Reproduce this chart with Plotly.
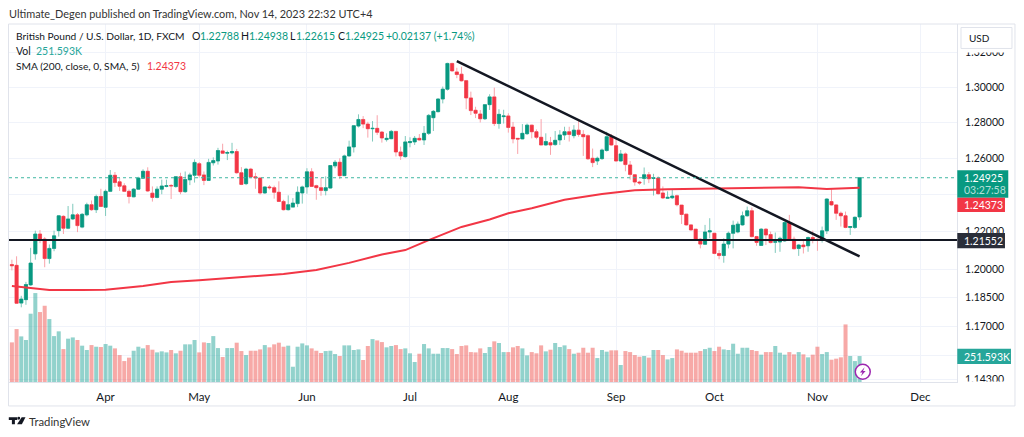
import math

import pandas as pd
import plotly.graph_objs as go

# GBPUSD daily candles
opens = [
    1.2024,1.2020,1.1822,1.1840,1.1917,1.2081,1.2187,1.2160,1.2056,1.2110,
    1.2205,1.2282,1.2218,1.2268,1.2290,1.2224,1.2290,1.2345,1.2318,1.2390,
    1.2331,1.2418,1.2506,1.2470,1.2448,1.2418,1.2388,1.2430,1.2490,1.2528,
    1.2408,1.2385,1.2430,1.2445,1.2450,1.2444,1.2498,1.2416,1.2481,1.2506,
    1.2570,1.2508,1.2478,1.2575,1.2585,1.2641,1.2628,1.2630,1.2637,1.2520,
    1.2460,1.2540,1.2498,1.2491,1.2409,1.2442,1.2438,1.2413,1.2363,1.2318,
    1.2332,1.2351,1.2409,1.2442,1.2525,1.2449,1.2438,1.2422,1.2436,1.2558,
    1.2578,1.2504,1.2613,1.2663,1.2780,1.2817,1.2791,1.2765,1.2767,1.2746,
    1.2704,1.2709,1.2750,1.2635,1.2609,1.2687,1.2691,1.2711,1.2702,1.2739,
    1.2827,1.2861,1.2933,1.2989,1.3137,1.3088,1.3075,1.3038,1.2939,1.2869,
    1.2848,1.2821,1.2901,1.2945,1.2794,1.2833,1.2837,1.2774,1.2711,1.2708,
    1.2737,1.2785,1.2748,1.2717,1.2674,1.2687,1.2676,1.2702,1.2730,1.2748,
    1.2726,1.2757,1.2733,1.2726,1.2600,1.2585,1.2598,1.2643,1.2720,1.2670,
    1.2585,1.2624,1.2563,1.2509,1.2469,1.2489,1.2509,1.2489,1.2491,1.2409,
    1.2380,1.2383,1.2394,1.2343,1.2294,1.2236,1.2213,1.2159,1.2132,1.2198,
    1.2191,1.2083,1.2072,1.2133,1.2191,1.2198,1.2236,1.2285,1.2312,1.2173,
    1.2126,1.2213,1.2184,1.2143,1.2144,1.2150,1.2249,1.2159,1.2110,1.2128,
    1.2124,1.2168,1.2159,1.2155,1.2204,1.2362,1.2344,1.2299,1.2285,1.2222,1.2222,1.22788,
]
highs = [
    1.2050,1.2068,1.1860,1.1933,1.2113,1.2205,1.2208,1.2170,1.2131,1.2205,
    1.2288,1.2288,1.2338,1.2350,1.2300,1.2300,1.2356,1.2368,1.2400,1.2432,
    1.2428,1.2535,1.2524,1.2492,1.2462,1.2428,1.2436,1.2498,1.2539,1.2550,
    1.2445,1.2445,1.2482,1.2482,1.2458,1.2502,1.2520,1.2527,1.2520,1.2594,
    1.2579,1.2527,1.2597,1.2605,1.2658,1.2681,1.2642,1.2686,1.2652,1.2551,
    1.2547,1.2547,1.2520,1.2493,1.2445,1.2452,1.2449,1.2473,1.2372,1.2396,
    1.2381,1.2445,1.2449,1.2545,1.2545,1.2454,1.2491,1.2500,1.2560,1.2590,
    1.2600,1.2620,1.2698,1.2785,1.2846,1.2836,1.2804,1.2808,1.2841,1.2752,
    1.2739,1.2758,1.2752,1.2665,1.2724,1.2717,1.2724,1.2735,1.2780,1.2848,
    1.2870,1.2937,1.3004,1.3141,1.3141,1.3112,1.3118,1.3042,1.2975,1.2889,
    1.2870,1.2903,1.2960,1.2998,1.2875,1.2872,1.2852,1.2803,1.2712,1.2791,
    1.2794,1.2787,1.2761,1.2819,1.2739,1.2719,1.2752,1.2757,1.2776,1.2776,
    1.2785,1.2809,1.2757,1.2733,1.2654,1.2609,1.2654,1.2748,1.2735,1.2717,
    1.2646,1.2632,1.2585,1.2511,1.2476,1.2549,1.2524,1.2514,1.2500,1.2445,
    1.2418,1.2427,1.2400,1.2343,1.2294,1.2240,1.2213,1.2164,1.2236,1.2272,
    1.2191,1.2101,1.2164,1.2200,1.2259,1.2254,1.2308,1.2335,1.2330,1.2177,
    1.2218,1.2218,1.2200,1.2195,1.2173,1.2254,1.2290,1.2173,1.2133,1.2155,
    1.2173,1.2205,1.2161,1.2227,1.2380,1.2429,1.2347,1.2308,1.2308,1.2229,1.2281,1.24938,
]
lows = [
    1.1993,1.1818,1.1800,1.1813,1.1912,1.2050,1.2138,1.2010,1.2029,1.2095,
    1.2173,1.2187,1.2213,1.2262,1.2197,1.2218,1.2282,1.2312,1.2300,1.2332,
    1.2284,1.2414,1.2442,1.2420,1.2414,1.2352,1.2386,1.2427,1.2486,1.2415,
    1.2362,1.2380,1.2402,1.2440,1.2376,1.2438,1.2402,1.2410,1.2452,1.2466,
    1.2493,1.2452,1.2475,1.2560,1.2565,1.2625,1.2590,1.2622,1.2515,1.2452,
    1.2452,1.2490,1.2432,1.2400,1.2405,1.2428,1.2378,1.2363,1.2314,1.2314,
    1.2332,1.2332,1.2351,1.2405,1.2442,1.2372,1.2394,1.2396,1.2433,1.2545,
    1.2485,1.2504,1.2609,1.2632,1.2772,1.2768,1.2715,1.2693,1.2730,1.2687,
    1.2693,1.2706,1.2610,1.2591,1.2604,1.2661,1.2674,1.2698,1.2674,1.2730,
    1.2752,1.2857,1.2908,1.2981,1.3090,1.3052,1.3033,1.2875,1.2842,1.2825,
    1.2800,1.2814,1.2871,1.2780,1.2765,1.2794,1.2743,1.2683,1.2624,1.2706,
    1.2730,1.2711,1.2706,1.2674,1.2670,1.2619,1.2670,1.2674,1.2702,1.2693,
    1.2711,1.2720,1.2613,1.2591,1.2551,1.2563,1.2591,1.2637,1.2670,1.2582,
    1.2582,1.2528,1.2482,1.2449,1.2454,1.2454,1.2463,1.2395,1.2400,1.2376,
    1.2376,1.2376,1.2336,1.2241,1.2232,1.2205,1.2155,1.2110,1.2128,1.2164,
    1.2079,1.2052,1.2034,1.2110,1.2110,1.2191,1.2232,1.2281,1.2169,1.2124,
    1.2124,1.2128,1.2137,1.2086,1.2092,1.2146,1.2155,1.2105,1.2070,1.2083,
    1.2092,1.2137,1.2097,1.2141,1.2187,1.2340,1.2263,1.2227,1.2218,1.2182,1.2214,1.22615,
]
closes = [
    1.2018,1.1821,1.1843,1.1919,1.2032,1.2187,1.2160,1.2056,1.2110,1.2177,
    1.2285,1.2218,1.2268,1.2290,1.2232,1.2293,1.2345,1.2318,1.2390,1.2336,
    1.2418,1.2506,1.2466,1.2446,1.2418,1.2390,1.2430,1.2491,1.2528,1.2420,
    1.2385,1.2430,1.2447,1.2449,1.2448,1.2498,1.2416,1.2483,1.2508,1.2577,
    1.2506,1.2478,1.2577,1.2587,1.2643,1.2628,1.2632,1.2637,1.2520,1.2456,
    1.2540,1.2497,1.2492,1.2409,1.2442,1.2438,1.2413,1.2363,1.2318,1.2345,
    1.2354,1.2413,1.2442,1.2525,1.2445,1.2438,1.2423,1.2438,1.2560,1.2578,
    1.2504,1.2613,1.2663,1.2782,1.2817,1.2791,1.2765,1.2767,1.2745,1.2713,
    1.2711,1.2750,1.2635,1.2613,1.2691,1.2693,1.2711,1.2702,1.2739,1.2840,
    1.2863,1.2933,1.2989,1.3137,1.3094,1.3073,1.3037,1.2939,1.2867,1.2852,
    1.2821,1.2901,1.2945,1.2794,1.2846,1.2837,1.2772,1.2708,1.2707,1.2739,
    1.2785,1.2748,1.2717,1.2674,1.2693,1.2674,1.2700,1.2730,1.2748,1.2733,
    1.2757,1.2733,1.2720,1.2597,1.2576,1.2600,1.2646,1.2720,1.2674,1.2585,
    1.2624,1.2565,1.2511,1.2469,1.2464,1.2509,1.2487,1.2492,1.2405,1.2382,
    1.2385,1.2392,1.2345,1.2292,1.2236,1.2209,1.2159,1.2133,1.2198,1.2204,
    1.2083,1.2072,1.2133,1.2191,1.2234,1.2240,1.2285,1.2312,1.2173,1.2142,
    1.2213,1.2182,1.2141,1.2146,1.2164,1.2249,1.2159,1.2108,1.2128,1.2119,
    1.2168,1.2153,1.2155,1.2204,1.2376,1.2344,1.2299,1.2285,1.2222,1.2227,1.2277,1.24925,
]
# volume in thousands
volumes = [
    384,513,442,407,662,862,678,739,610,445,
    491,319,420,432,407,352,310,358,342,339,
    368,352,326,261,203,236,303,342,326,358,
    313,287,297,287,310,278,303,365,365,407,
    287,384,378,445,329,242,329,329,381,300,
    261,303,303,316,358,336,365,381,342,352,
    148,342,374,355,326,303,281,300,303,271,
    252,355,355,310,316,213,349,416,403,387,
    336,349,358,319,326,278,194,274,368,326,
    274,274,329,329,319,271,349,355,290,287,
    326,281,339,394,378,290,290,336,349,326,
    258,290,278,355,297,313,378,339,355,319,
    274,284,332,284,332,232,310,294,307,307,
    165,300,290,261,245,252,236,310,310,261,
    219,232,316,303,284,284,284,300,319,332,
    300,342,316,310,371,274,332,332,310,300,
    265,290,290,349,284,265,290,268,290,268,
    239,265,342,271,290,216,226,239,558,252,203,251.593,
]
assert len(opens) == len(highs) == len(lows) == len(closes) == len(volumes) == 182

# 200 day average, read at some of the candles
sma_dates = [
    "2023-03-06","2023-03-10","2023-03-16","2023-03-27","2023-04-03","2023-04-13",
    "2023-04-21","2023-05-01","2023-05-17","2023-05-25","2023-06-05","2023-06-14",
    "2023-06-23","2023-06-30","2023-07-07","2023-07-18","2023-07-26","2023-08-01",
    "2023-08-08","2023-08-17","2023-08-29","2023-09-07","2023-09-18","2023-09-27",
    "2023-10-09","2023-10-18","2023-10-26","2023-11-03","2023-11-14",
]
sma_values = [
    1.1911,1.1900,1.1890,1.1890,1.1892,1.1911,
    1.1932,1.1942,1.1962,1.1974,1.1996,1.2033,
    1.2078,1.2101,1.2154,1.2225,1.2265,1.2299,
    1.2326,1.2372,1.2403,1.2424,1.2430,1.2432,
    1.2433,1.2437,1.2440,1.2431,1.24373,
]

trend_dates = ["2023-07-17", "2023-11-14"]
trend_values = [1.3151, 1.2067]
support_level = 1.21552
last_close = 1.24925

price_ticks = [1.143, 1.155, 1.17, 1.185, 1.2, 1.22, 1.24, 1.26, 1.28, 1.3, 1.32]
# 1.155 and 1.24 sit behind the value boxes on the price scale
price_labels = ["1.14300", "", "1.17000", "1.18500", "1.20000", "1.22000", "",
                "1.26000", "1.28000", "1.30000", "1.32000"]
month_ticks = ["2023-04-03", "2023-05-01", "2023-06-01", "2023-07-03", "2023-08-01",
               "2023-09-01", "2023-10-02", "2023-11-01", "2023-12-01"]
month_labels = ["Apr", "May", "Jun", "Jul", "Aug", "Sep", "Oct", "Nov", "Dec"]

axis_dates = pd.bdate_range("2023-03-06", periods=204).strftime("%Y-%m-%d").tolist()
candle_dates = axis_dates[:len(opens)]

GREEN = "#089981"
RED = "#F23645"
VOL_GREEN = "#26A69A"
TEXT = "#131722"
GRID = "#F0F3FA"
BORDER = "#E0E3EB"
FONT = "Lato"

# pane corners in window pixels
LEFT, RIGHT, TOP, BOTTOM = 8.5, 957.0, 23.5, 382.0


def px(x):
    return (x - LEFT) / (RIGHT - LEFT)


def py(y):
    return (BOTTOM - y) / (BOTTOM - TOP)


def box(x0, y0, x1, y1, fill, line=None):
    return dict(type="rect", xref="paper", yref="paper", layer="above",
                x0=px(x0), x1=px(x1), y0=py(y0), y1=py(y1),
                fillcolor=fill, line=dict(color=line or fill, width=1 if line else 0))


def poly(points, fill):
    path = "M " + " L ".join(f"{px(x):.5f},{py(y):.5f}" for x, y in points) + " Z"
    return dict(type="path", xref="paper", yref="paper", layer="above", path=path,
                fillcolor=fill, line=dict(width=0))


def label(x, y, text, size=10.5, color=TEXT, anchor="left"):
    return dict(xref="paper", yref="paper", x=px(x), y=py(y), text=text, showarrow=False,
                xanchor=anchor, yanchor="middle", align=anchor, borderpad=0, borderwidth=0,
                font=dict(family=FONT, size=size, color=color))


vol_colors = ["rgba(38,166,154,0.5)" if c >= o else "rgba(239,83,80,0.5)"
              for o, c in zip(opens, closes)]
body_tops = [max(o, c) for o, c in zip(opens, closes)]
body_bottoms = [min(o, c) for o, c in zip(opens, closes)]

fig = go.Figure()
fig.add_trace(go.Bar(x=candle_dates, y=volumes, yaxis="y", marker=dict(color=vol_colors, line=dict(width=0))))
# pale wicks first, then solid bodies on top
fig.add_trace(go.Candlestick(
    x=candle_dates, open=opens, high=highs, low=lows, close=closes, yaxis="y2",
    whiskerwidth=0,
    increasing=dict(fillcolor=GREEN, line=dict(color="#7FC9BC", width=1)),
    decreasing=dict(fillcolor=RED, line=dict(color="#F9A3AA", width=1)),
))
fig.add_trace(go.Candlestick(
    x=candle_dates, open=opens, high=body_tops, low=body_bottoms, close=closes, yaxis="y2",
    whiskerwidth=0,
    increasing=dict(fillcolor=GREEN, line=dict(color=GREEN, width=0.5)),
    decreasing=dict(fillcolor=RED, line=dict(color=RED, width=0.5)),
))
fig.add_trace(go.Scatter(x=sma_dates, y=sma_values, yaxis="y2", mode="lines",
                         line=dict(color=RED, width=2)))
fig.add_trace(go.Scatter(x=trend_dates, y=trend_values, yaxis="y2", mode="lines",
                         line=dict(color="#131722", width=2.5)))

shapes = [
    dict(type="line", xref="paper", yref="y2", x0=0, x1=1, y0=last_close, y1=last_close,
         line=dict(color="#3FB8A3", width=1, dash="dot")),
    dict(type="line", xref="paper", yref="y2", x0=0, x1=1, y0=support_level, y1=support_level,
         layer="above", line=dict(color="#131722", width=2)),
    # hides the price labels that run under the button and past the pane
    box(958, 24, 1014.5, 52, "white"),
    box(958, 381.5, 1014.5, 405.5, "white"),
    box(961, 27, 1012, 48, "white", BORDER),
    box(957.3, 170, 1008.3, 197.4, GREEN),
    box(957.3, 197.6, 1005, 211.7, RED),
    box(957.3, 232.7, 1005, 248, "#2A2E39"),
    box(957.3, 348.7, 1011, 364, VOL_GREEN),
    # frame
    box(8, 23.5, 1015, 406, "rgba(0,0,0,0)", BORDER),
    # lightning badge
    dict(type="circle", xref="paper", yref="paper", layer="above",
         x0=px(855.2), x1=px(870.2), y0=py(364.2), y1=py(379.2),
         fillcolor="white", line=dict(color="#9C27B0", width=1.5)),
    poly([(864.6, 367.3), (859.8, 372.5), (862.4, 372.5), (860.8, 376.3), (865.6, 370.9), (863, 370.9)], "#9C27B0"),
    # logo
    poly([(8.3, 417.3), (16.8, 417.3), (16.8, 420), (14.4, 420), (14.4, 424.3), (11.4, 424.3), (11.4, 420), (8.3, 420)], "#131722"),
    poly([(21.2, 417.3), (25, 417.3), (21.4, 424.3), (16.6, 424.3)], "#131722"),
    dict(type="circle", xref="paper", yref="paper", layer="above",
         x0=px(16.9), x1=px(19.7), y0=py(416.9), y1=py(419.7), fillcolor="#131722", line=dict(width=0)),
]

annotations = [
    label(8, 13, "Ultimate_Degen published on TradingView.com, Nov 14, 2023 22:32 UTC+4", 10.9, "#333333"),
    label(15.5, 35.5, "British Pound / U.S. Dollar, 1D, FXCM", 10.2),
    label(191.5, 35.5, "O"),
    label(199.5, 35.5, "1.22788", color=GREEN),
    label(240.5, 35.5, "H"),
    label(248.5, 35.5, "1.24938", color=GREEN),
    label(290, 35.5, "L"),
    label(296, 35.5, "1.22615", color=GREEN),
    label(337.5, 35.5, "C"),
    label(345, 35.5, "1.24925", color=GREEN),
    label(386, 35.5, "+0.02137 (+1.74%)", color=GREEN),
    label(15.5, 50.5, "Vol"),
    label(35.7, 50.5, "251.593K", color=VOL_GREEN),
    label(15.5, 65.5, "SMA (200, close, 0, SMA, 5)", 10.2),
    label(147, 65.5, "1.24373", color=RED),
    label(969, 37.5, "USD", 10),
    label(964.5, 177.5, "1.24925", color="white"),
    label(964.5, 190, "03:27:58", color="rgba(255,255,255,0.7)"),
    label(964.5, 204.5, "1.24373", color="white"),
    label(964.5, 240.5, "1.21552", color="white"),
    label(964.5, 356.5, "251.593K", color="white"),
    label(29, 421.5, "TradingView", 11.3, "#333333"),
]

fig.update_layout(
    width=1024, height=437,
    margin=dict(l=LEFT, r=1024 - RIGHT, t=TOP, b=437 - BOTTOM, autoexpand=False),
    paper_bgcolor="white", plot_bgcolor="white",
    showlegend=False, hovermode=False, bargap=0.14, boxgap=0.3, boxgroupgap=0.05,
    font=dict(family=FONT, size=11, color=TEXT),
    shapes=shapes, annotations=annotations,
    xaxis=dict(
        type="category", categoryorder="array", categoryarray=axis_dates,
        range=[-0.62, 201.8], rangeslider=dict(visible=False),
        tickmode="array", tickvals=month_ticks, ticktext=month_labels, tickangle=0,
        tickfont=dict(size=11.5, color=TEXT), ticks="outside", ticklen=4, tickcolor="white",
        showgrid=True, gridcolor=GRID, gridwidth=1, zeroline=False,
        showline=True, linecolor=BORDER, linewidth=1,
    ),
    yaxis=dict(range=[0, 3470], visible=False, fixedrange=True),
    yaxis2=dict(
        type="log", overlaying="y", side="right", anchor="x",
        range=[math.log10(1.14185), math.log10(1.3367)],
        tickmode="array", tickvals=price_ticks, ticktext=price_labels,
        tickfont=dict(size=10.5, color=TEXT), ticks="outside", ticklen=5, tickcolor="white",
        showgrid=True, gridcolor=GRID, gridwidth=1, zeroline=False,
        showline=True, linecolor=BORDER, linewidth=1,
    ),
)

fig.write_html("out.html", config=dict(displayModeBar=False),
               post_script="document.body.style.margin='0';")
